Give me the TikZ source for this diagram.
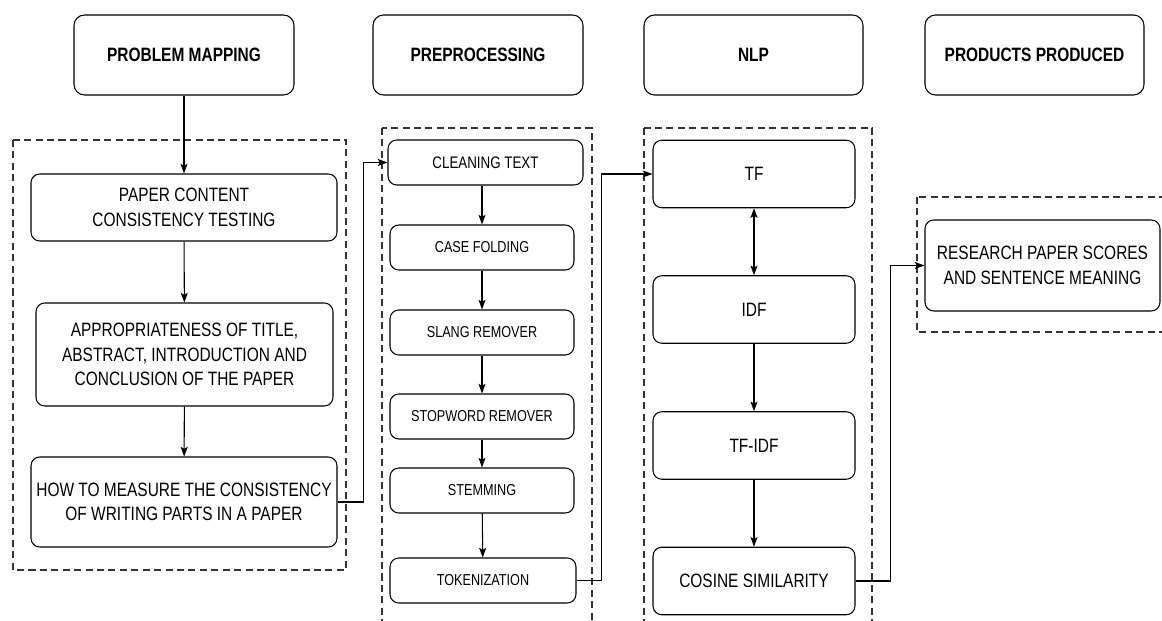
\documentclass[tikz,border=0pt]{standalone}
\usepackage{fontspec}
\setmainfont{Liberation Sans}[FakeStretch=0.8]
\usetikzlibrary{arrows.meta}

\begin{document}
\begin{tikzpicture}[
		flowtip/.tip={Stealth[length=5.5pt, width=4pt, inset=1.2pt]},
		box/.style={draw, rounded corners=5pt, line width=0.6pt, align=center, inner sep=2pt,
			font=\fontsize{11}{14}\selectfont},
		hdr/.style={box, minimum height=1.6cm, rounded corners=6pt, font=\fontsize{11}{13}\selectfont\bfseries},
		step2/.style={box, minimum height=0.9cm, font=\fontsize{9}{11}\selectfont},
		nlpbox/.style={box, minimum width=4.04cm, minimum height=1.35cm},
		grp/.style={draw=black!80, line width=0.6pt, dash pattern=on 4pt off 2.5pt},
		arr/.style={line width=0.6pt, -flowtip},
		dblarr/.style={line width=0.6pt, flowtip-flowtip}
	]

		\useasboundingbox (0, 0) rectangle (23.24, -12.42);

		% headers
		\node[hdr, minimum width=4.4cm] (hmap) at (3.68, -1.1) {PROBLEM MAPPING};
		\node[hdr, minimum width=4.2cm] (hpre) at (9.56, -1.1) {PREPROCESSING};
		\node[hdr, minimum width=4.38cm] (hnlp) at (15.07, -1.1) {NLP};
		\node[hdr, minimum width=4.38cm] (hprod) at (20.69, -1.1) {PRODUCTS PRODUCED};

		% dashed groups
		\draw[grp] (0.26, -2.8) rectangle (6.92, -11.4);
		\draw[grp] (7.64, -2.56) rectangle (11.84, -12.8);
		\draw[grp] (12.88, -2.56) rectangle (17.44, -12.8);
		\draw[grp] (18.34, -3.94) rectangle (23.5, -6.64);

		% problem mapping
		\node[box, minimum width=6.12cm, minimum height=1.34cm] (paper) at (3.68, -4.15) {PAPER CONTENT\\CONSISTENCY TESTING};
		\node[box, minimum width=5.94cm, minimum height=2.06cm] (approp) at (3.69, -7.09) {APPROPRIATENESS OF TITLE,\\ABSTRACT, INTRODUCTION AND\\CONCLUSION OF THE PAPER};
		\node[box, minimum width=6.12cm, minimum height=1.8cm] (measure) at (3.68, -10.04) {HOW TO MEASURE THE CONSISTENCY\\OF WRITING PARTS IN A PAPER};

		% preprocessing
		\node[step2, minimum width=3.9cm, font=\fontsize{9.5}{11}\selectfont] (clean) at (9.71, -3.25) {CLEANING TEXT};
		\node[step2, minimum width=3.68cm] (case) at (9.64, -4.95) {CASE FOLDING};
		\node[step2, minimum width=3.68cm] (slang) at (9.64, -6.65) {SLANG REMOVER};
		\node[step2, minimum width=3.68cm] (stop) at (9.64, -8.33) {STOPWORD REMOVER};
		\node[step2, minimum width=3.68cm] (stem) at (9.64, -9.81) {STEMMING};
		\node[step2, minimum width=3.72cm] (token) at (9.66, -11.61) {TOKENIZATION};

		% nlp
		\node[nlpbox] (tf) at (15.08, -3.48) {TF};
		\node[nlpbox] (idf) at (15.08, -6.19) {IDF};
		\node[nlpbox] (tfidf) at (15.08, -8.91) {TF-IDF};
		\node[nlpbox] (cos) at (15.08, -11.62) {COSINE SIMILARITY};

		% products
		\node[box, minimum width=4.7cm, minimum height=1.82cm] (res) at (20.85, -5.31) {RESEARCH PAPER SCORES\\AND SENTENCE MEANING};

		\draw[arr] (hmap) -- (paper);
		\draw[arr] (paper) -- (approp);
		\draw[arr] (approp) -- (measure);
		\draw[arr] (measure.east) -- ++(0.52, 0) |- (clean.west);

		\draw[arr] (case.north |- clean.south) -- (case.north);
		\draw[arr] (case) -- (slang);
		\draw[arr] (slang) -- (stop);
		\draw[arr] (stop) -- (stem);
		\draw[arr] (stem) -- (token);
		\draw[arr] (token.east) -- ++(0.5, 0) |- (tf.west);

		\draw[dblarr] (tf) -- (idf);
		\draw[arr] (idf) -- (tfidf);
		\draw[arr] (tfidf) -- (cos);
		\draw[arr] (cos.east) -- ++(0.7, 0) |- (res.west);

	\end{tikzpicture}
\end{document}
